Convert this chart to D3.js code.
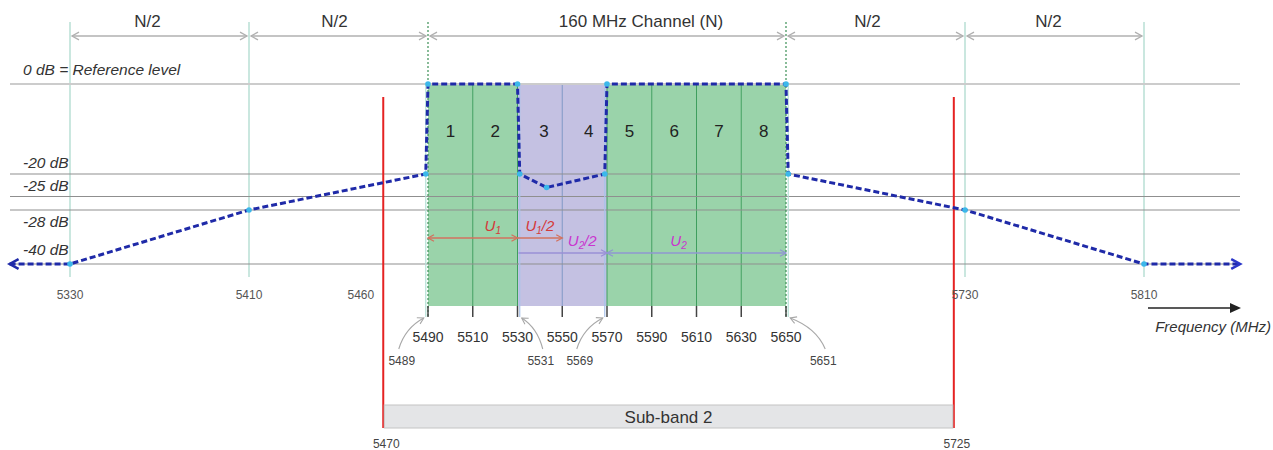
<!DOCTYPE html>
<html><head><meta charset="utf-8">
<script src="https://cdn.jsdelivr.net/npm/d3@7"></script>
<style>body{margin:0;background:#fff}svg{display:block;font-family:Arial,"Liberation Sans",sans-serif}</style>
</head><body><svg id="c" width="1273" height="450"></svg>
<script>
// ---------- data ----------
const maskFreq = [5303, 5330, 5410, 5489, 5490, 5530, 5531, 5543, 5569, 5570, 5650, 5651, 5730, 5810, 5853];
const maskDb   = [-40, -40, -28, -20, 0, 0, -20, -23, -20, 0, 0, -20, -28, -40, -40];
const levelDb = [0, -20, -25, -28, -40];
const levelLabels = ["0 dB = Reference level", "-20 dB", "-25 dB", "-28 dB", "-40 dB"];
const subEdges = [5490, 5510, 5530, 5550, 5570, 5590, 5610, 5630, 5650];
const subNumbers = ["1", "2", "3", "4", "5", "6", "7", "8"];
const puncturedSubs = ["3", "4"];
const tickLabels = ["5490", "5510", "5530", "5550", "5570", "5590", "5610", "5630", "5650"];
const outerFreqs = [5330, 5410, 5730, 5810];
const outerLabels = ["5330", "5410", "5460", "5730", "5810"];
const outerLabelFreqs = [5330, 5410, 5460, 5730, 5810];
const pointerFreqs = [5489, 5531, 5569, 5651];
const subBandEdges = [5470, 5725];
const subBandName = "Sub-band 2";
const spanStart = [5330, 5410, 5490, 5650, 5730];
const spanEnd   = [5410, 5490, 5650, 5730, 5810];
const spanLabels = ["N/2", "N/2", "160 MHz Channel (N)", "N/2", "N/2"];
const uStart = [5490, 5530, 5530, 5570];
const uEnd   = [5530, 5550, 5570, 5650];
const uNames = [["U","1",""], ["U","1","/2"], ["U","2","/2"], ["U","2",""]];

// ---------- scales ----------
const x = d3.scaleLinear().domain([5330, 5810]).range([70, 1144]);
const y = d3.scaleLinear().domain([0, -40]).range([84, 264]);
const svg = d3.select("#c");
const fillBottom = 306;

function chevron(g, px, py, dir, size, color, width) {
  const s = size, h = size * 0.55;
  g.append("path")
    .attr("d", `M${px - dir * s},${py - h}L${px},${py}L${px - dir * s},${py + h}`)
    .attr("fill", "none").attr("stroke", color).attr("stroke-width", width);
}

// ---------- fills ----------
const subs = subNumbers.map((n, i) => ({ n, a: subEdges[i], b: subEdges[i + 1] }));
svg.append("g").selectAll("rect").data(subs).join("rect")
  .attr("x", d => x(d.a)).attr("y", y(0))
  .attr("width", d => x(d.b) - x(d.a)).attr("height", fillBottom - y(0))
  .attr("fill", d => puncturedSubs.includes(d.n) ? "#c4c1e2" : "#9ad3aa");

svg.append("g").selectAll("line").data(subEdges.slice(1, -1)).join("line")
  .attr("x1", d => x(d)).attr("x2", d => x(d)).attr("y1", y(0)).attr("y2", fillBottom)
  .attr("stroke", d => d === 5550 ? "#7f95c4" : "#3f9e5e").attr("stroke-width", 1);

svg.append("g").selectAll("line").data(outerFreqs).join("line")
  .attr("x1", d => x(d)).attr("x2", d => x(d)).attr("y1", 22).attr("y2", 277)
  .attr("stroke", "#b9dfd5").attr("stroke-width", 1.5);

svg.append("g").selectAll("line").data(levelDb).join("line")
  .attr("x1", 10).attr("x2", 1240).attr("y1", d => y(d)).attr("y2", d => y(d))
  .attr("stroke", d => d === 0 ? "#cccccc" : "#8f8f8f")
  .attr("stroke-width", d => d === 0 ? 2 : 1);

svg.append("g").selectAll("line").data([subEdges[0], subEdges[subEdges.length - 1]]).join("line")
  .attr("x1", d => x(d)).attr("x2", d => x(d)).attr("y1", 22).attr("y2", 317)
  .attr("stroke", "#3b8f55").attr("stroke-width", 1.2).attr("stroke-dasharray", "2,2");

svg.append("g").selectAll("line").data(pointerFreqs).join("line")
  .attr("x1", d => x(d)).attr("x2", d => x(d)).attr("y1", y(0)).attr("y2", 317)
  .attr("stroke", d => (d === 5531 || d === 5569) ? "#a9c3ea" : "#b5e0d6").attr("stroke-width", 1.2);

svg.append("g").selectAll("line").data(subEdges).join("line")
  .attr("x1", d => x(d)).attr("x2", d => x(d)).attr("y1", fillBottom).attr("y2", 317)
  .attr("stroke", "#444").attr("stroke-width", 1.5);

svg.append("g").selectAll("text").data(tickLabels).join("text")
  .attr("x", (d, i) => x(subEdges[i])).attr("y", 342)
  .attr("text-anchor", "middle").attr("font-size", 14).attr("fill", "#333").text(d => d);

svg.append("g").selectAll("text").data(subs).join("text")
  .attr("x", d => x((d.a + d.b) / 2) + (d.n === "3" || d.n === "4" ? 4 : 0)).attr("y", 137)
  .attr("text-anchor", "middle").attr("font-size", 17).attr("fill", "#222").text(d => d.n);

svg.append("g").selectAll("line").data(subBandEdges).join("line")
  .attr("x1", d => x(d)).attr("x2", d => x(d)).attr("y1", 97).attr("y2", 428)
  .attr("stroke", "#e52222").attr("stroke-width", 2);

svg.append("rect").attr("x", x(subBandEdges[0]) + 1).attr("y", 405)
  .attr("width", x(subBandEdges[1]) - x(subBandEdges[0]) - 2).attr("height", 23)
  .attr("fill", "#e4e5e7").attr("stroke", "#c4c4c4");
svg.append("text").attr("x", (x(subBandEdges[0]) + x(subBandEdges[1])) / 2).attr("y", 423)
  .attr("text-anchor", "middle").attr("font-size", 17).attr("fill", "#333").text(subBandName);
svg.append("g").selectAll("text").data(subBandEdges).join("text")
  .attr("x", d => x(d) + 3).attr("y", 447.5).attr("text-anchor", "middle")
  .attr("font-size", 12).attr("fill", "#444").text(d => d);

svg.append("g").selectAll("text").data(outerLabels).join("text")
  .attr("x", (d, i) => x(outerLabelFreqs[i])).attr("y", 299)
  .attr("text-anchor", "middle").attr("font-size", 12).attr("fill", "#555").text(d => d);

const spans = spanLabels.map((l, i) => ({ l, a: spanStart[i], b: spanEnd[i] }));
const spanDx = [-12, -4, 34, -8, -6];
const sg = svg.append("g");
spans.forEach((s, i) => {
  const xa = x(s.a) + 2, xb = x(s.b) - 2;
  sg.append("line").attr("x1", xa).attr("x2", xb).attr("y1", 36).attr("y2", 36)
    .attr("stroke", "#b0b0b0").attr("stroke-width", 1.3);
  chevron(sg, xa, 36, -1, 7, "#b0b0b0", 1.3);
  chevron(sg, xb, 36, 1, 7, "#b0b0b0", 1.3);
  sg.append("text").attr("x", (x(s.a) + x(s.b)) / 2 + spanDx[i]).attr("y", 27)
    .attr("text-anchor", "middle").attr("font-size", 17).attr("fill", "#333").text(s.l);
});

const lblOff = [-9, -6, -6, 17, -9];
svg.append("g").selectAll("text").data(levelLabels).join("text")
  .attr("x", 23).attr("y", (d, i) => y(levelDb[i]) + lblOff[i])
  .attr("font-size", 15.5).attr("font-style", "italic").attr("fill", "#333").text(d => d);

const uColors = ["#d2725f", "#d2725f", "#9a8fd6", "#8f97d0"];
const uText = ["#d43a3a", "#d43a3a", "#c936cf", "#c936cf"];
const uY = [238, 238, 253, 253];
const ug = svg.append("g");
uNames.forEach((nm, i) => {
  const xa = x(uStart[i]) + (i === 2 ? 1 : 0), xb = x(uEnd[i]);
  ug.append("line").attr("x1", xa).attr("x2", xb).attr("y1", uY[i]).attr("y2", uY[i])
    .attr("stroke", uColors[i]).attr("stroke-width", 1.3);
  chevron(ug, xb, uY[i], 1, 6, uColors[i], 1.3);
  if (i === 0 || i === 3) chevron(ug, xa, uY[i], -1, 6, uColors[i], 1.3);
  const t = ug.append("text").attr("x", (x(uStart[i]) + x(uEnd[i])) / 2 + (i === 0 ? 20 : i === 1 ? 0 : i === 2 ? 20 : -18))
    .attr("y", uY[i] - 7).attr("text-anchor", "middle").attr("font-size", 15)
    .attr("font-style", "italic").attr("fill", uText[i]);
  t.append("tspan").text(nm[0]);
  t.append("tspan").attr("font-size", 10).attr("dy", 3).text(nm[1]);
  if (nm[2]) t.append("tspan").attr("dy", -3).text(nm[2]);
});

const ptrLabelDx = [-24, 21, -25, 35];
const pg = svg.append("g");
pointerFreqs.forEach((f, i) => {
  const tx = x(f) + (i === 0 || i === 2 ? -2 : 2), ty = 318;
  const lx = x(f) + ptrLabelDx[i], sx = lx + (ptrLabelDx[i] < 0 ? -3 : 2), sy = 349;
  const cx = sx + (tx - sx) * 0.25, cy = 328;
  pg.append("path").attr("d", `M${sx},${sy}Q${cx},${cy} ${tx},${ty}`)
    .attr("fill", "none").attr("stroke", "#a8a8a8").attr("stroke-width", 1.1);
  const ang = Math.atan2(ty - cy, tx - cx);
  const s = 6, h = 3.5;
  const ux = Math.cos(ang), uy = Math.sin(ang);
  pg.append("path").attr("d",
    `M${tx - ux * s - uy * h},${ty - uy * s + ux * h}L${tx},${ty}L${tx - ux * s + uy * h},${ty - uy * s - ux * h}`)
    .attr("fill", "none").attr("stroke", "#a8a8a8").attr("stroke-width", 1.1);
  pg.append("text").attr("x", lx).attr("y", 365).attr("text-anchor", "middle")
    .attr("font-size", 12).attr("fill", "#444").text(f);
});

const mask = maskFreq.map((f, i) => ({ f, db: maskDb[i] }));
svg.append("path").datum(mask)
  .attr("d", d3.line().x(d => x(d.f)).y(d => y(d.db)))
  .attr("fill", "none").attr("stroke", "#1f2aa8").attr("stroke-width", 3)
  .attr("stroke-dasharray", "6,3");
const mg = svg.append("g");
chevron(mg, x(maskFreq[0]), y(maskDb[0]), -1, 9, "#1f2aa8", 2.5);
chevron(mg, x(maskFreq[maskFreq.length - 1]), y(maskDb[maskDb.length - 1]), 1, 9, "#2a36c8", 2.5);
svg.append("g").selectAll("circle").data(mask.slice(1, -1)).join("circle")
  .attr("cx", d => x(d.f)).attr("cy", d => y(d.db)).attr("r", 2.8)
  .attr("fill", "#3cb8ea");

svg.append("line").attr("x1", 1148).attr("x2", 1232).attr("y1", 308).attr("y2", 308)
  .attr("stroke", "#222").attr("stroke-width", 1.5);
svg.append("path").attr("d", "M1230,303L1241,308L1230,313Z").attr("fill", "#222");
svg.append("text").attr("x", 1271).attr("y", 332).attr("text-anchor", "end")
  .attr("font-size", 15).attr("font-style", "italic").attr("fill", "#333").text("Frequency (MHz)");
</script></body></html>
